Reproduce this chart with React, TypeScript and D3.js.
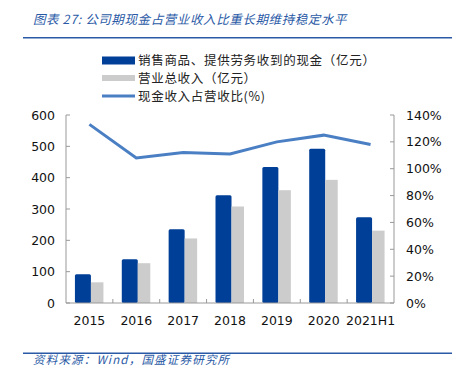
import React from "react";
import * as d3 from "d3";

const categories = ["2015", "2016", "2017", "2018", "2019", "2020", "2021H1"];
const cashValues = [92, 140, 235, 344, 434, 492, 274];
const revenueValues = [66, 127, 206, 308, 360, 393, 231];
const ratioValues = [133, 108, 112, 111, 120, 125, 118];
const leftTicks = [0, 100, 200, 300, 400, 500, 600];
const rightTicks = [0, 20, 40, 60, 80, 100, 120, 140];
const legendLabels = ["销售商品、提供劳务收到的现金（亿元）", "营业总收入（亿元）", "现金收入占营收比(%)"];
const titleText = "图表 27:  公司期现金占营业收入比重长期维持稳定水平";
const sourceText = "资料来源：Wind，国盛证券研究所";

const W = 453, H = 375;
const left = 66, right = 394, top = 115, bottom = 303;
const blue = "#003f97";
const gray = "#cccccc";
const lineBlue = "#4a7fc4";
const titleBlue = "#2a5aa6";
const axisColor = "#999";
const font = "'Noto Sans CJK SC', 'Noto Sans', sans-serif";
const numFont = "'DejaVu Sans', Verdana, sans-serif";

export default function App() {
  const x = d3.scaleBand<string>().domain(categories).range([left, right]);
  const yL = d3.scaleLinear().domain([0, 600]).range([bottom, top]);
  const yR = d3.scaleLinear().domain([0, 140]).range([bottom, top]);
  const bw = x.bandwidth();
  const blueW = 16, grayW = 12.5;
  const line = d3
    .line<number>()
    .x((_, i) => (x(categories[i]) as number) + bw / 2)
    .y((d) => yR(d));

  return (
    <svg width={W} height={H} style={{ position: "absolute", left: 0, top: 0 }}>
      <rect width={W} height={H} fill="#fff" />
      <text x={33} y={24} fontFamily={font} fontSize={12.5} fontStyle="italic" fill={titleBlue} letterSpacing={0.6}>
        {titleText}
      </text>
      <line x1={23} x2={452} y1={37.8} y2={37.8} stroke={titleBlue} strokeWidth={1.5} />

      {/* legend */}
      <rect x={102} y={56.5} width={33} height={8} fill={blue} />
      <text x={138} y={65} fontFamily={font} fontSize={12.5} fill="#222" letterSpacing={0.7}>{legendLabels[0]}</text>
      <rect x={102} y={75} width={33} height={6} fill={gray} />
      <text x={138} y={82.5} fontFamily={font} fontSize={12.5} fill="#222" letterSpacing={0.7}>{legendLabels[1]}</text>
      <line x1={102} x2={135} y1={96} y2={96} stroke={lineBlue} strokeWidth={3} />
      <text x={138} y={101} fontFamily={font} fontSize={12.5} fill="#222" letterSpacing={0.7}>{legendLabels[2]}</text>

      {/* bars */}
      {categories.map((c, i) => {
        const cx = (x(c) as number) + bw / 2;
        return (
          <g key={c}>
            <rect x={cx - blueW + 1.5} y={yL(cashValues[i])} width={blueW} height={bottom - yL(cashValues[i])} fill={blue} rx={1.5} />
            <rect x={cx + 1.5} y={yL(revenueValues[i])} width={grayW} height={bottom - yL(revenueValues[i])} fill={gray} />
          </g>
        );
      })}

      {/* axes */}
      <line x1={left} x2={left} y1={top} y2={bottom} stroke={axisColor} />
      <line x1={right} x2={right} y1={top} y2={bottom} stroke={axisColor} />
      <line x1={left} x2={right} y1={bottom} y2={bottom} stroke={axisColor} />
      {leftTicks.map((t) => (
        <g key={"l" + t}>
          <line x1={left} x2={left + 4} y1={yL(t)} y2={yL(t)} stroke={axisColor} />
          <text x={55} y={yL(t) + 4.5} textAnchor="end" fontFamily={numFont} fontSize={12.5} fill="#111">{t}</text>
        </g>
      ))}
      {rightTicks.map((t) => (
        <g key={"r" + t}>
          <line x1={right - 4} x2={right} y1={yR(t)} y2={yR(t)} stroke={axisColor} />
          <text x={406} y={yR(t) + 4.5} fontFamily={numFont} fontSize={12.5} fill="#111">{t}%</text>
        </g>
      ))}
      {categories.map((c, i) =>
        i > 0 ? (
          <line key={"xt" + c} x1={x(c) as number} x2={x(c) as number} y1={bottom - 4} y2={bottom} stroke={axisColor} />
        ) : null
      )}
      {categories.map((c) => (
        <text key={"xl" + c} x={(x(c) as number) + bw / 2} y={325} textAnchor="middle" fontFamily={numFont} fontSize={12.5} fill="#111">{c}</text>
      ))}

      <path d={line(ratioValues) as string} fill="none" stroke={lineBlue} strokeWidth={3} />

      <line x1={23} x2={452} y1={353.3} y2={353.3} stroke={titleBlue} strokeWidth={1.5} />
      <text x={33} y={364} fontFamily={font} fontSize={11.5} fontStyle="italic" fill={titleBlue} letterSpacing={1.2}>{sourceText}</text>
    </svg>
  );
}
